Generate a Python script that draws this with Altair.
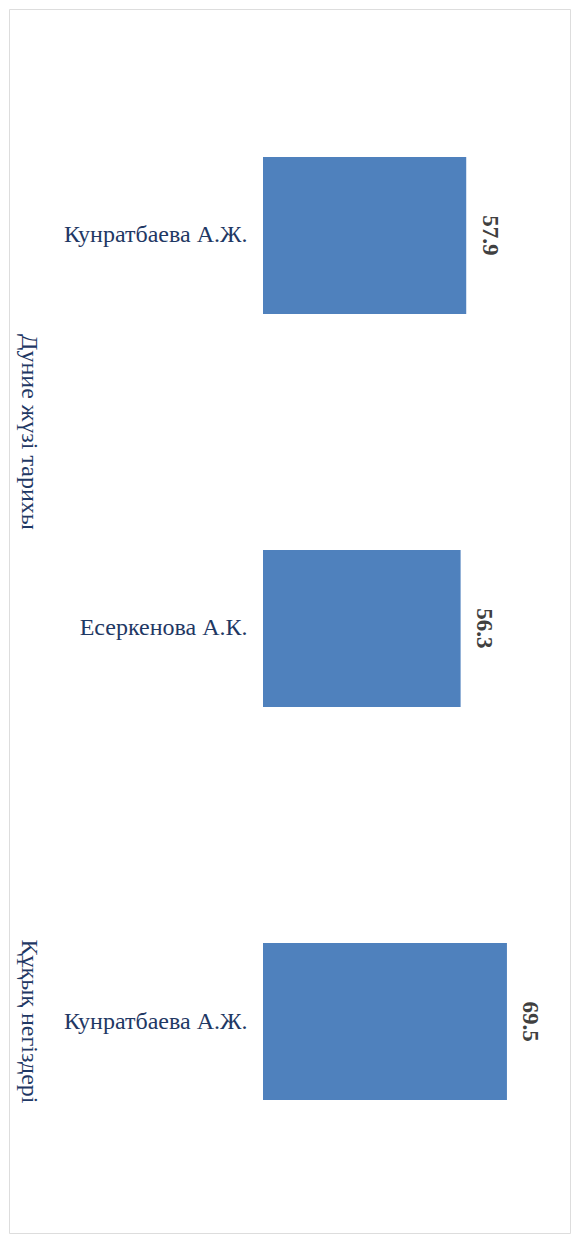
import altair as alt
import pandas as pd

groups = ["Дуние жүзі тарихы", "Дуние жүзі тарихы", "Құқық негіздері"]
names = ["Кунратбаева А.Ж.", "Есеркенова А.К.", "Кунратбаева А.Ж."]
values = [57.9, 56.3, 69.5]

df = pd.DataFrame({
    "idx": list(range(len(names))),
    "group": groups,
    "name": names,
    "value": values,
})

FONT = "Liberation Serif"
W, H = 561, 1224
P_IN, P_OUT, ALIGN = 0.6, 0.3572, 0.5267
n = len(names)
v_min = P_IN / 2 - 2 * P_OUT * ALIGN
v_max = v_min + (n - P_IN + 2 * P_OUT)

label_expr = "[" + ",".join("'" + s + "'" for s in names) + "][datum.value]"

yscale = alt.Scale(paddingInner=P_IN, paddingOuter=P_OUT, align=ALIGN)
yband = alt.Y(
    "idx:O",
    scale=yscale,
    axis=alt.Axis(
        title=None, domain=False, ticks=False, tickSize=0, labelPadding=16,
        offset=-254, labelExpr=label_expr, labelFont=FONT, labelFontSize=24,
        labelColor="#1F3864", labelLimit=400,
    ),
)
xq = alt.X("value:Q", scale=alt.Scale(domain=[0, 80], range=[254, 534.8]), axis=None)

base = alt.Chart(df)
bars = base.mark_bar(color="#4F81BD").encode(x=xq, y=yband)
vals = base.mark_text(
    angle=90, align="center", baseline="middle", dy=-23.5,
    font=FONT, fontSize=23, fontWeight="bold", color="#404040",
).encode(x=xq, y=yband, text=alt.Text("value:Q", format=".1f"))

grp = base.transform_calculate(pos="datum.idx + 0.5").transform_aggregate(
    pos="mean(pos)", groupby=["group"]
).mark_text(
    angle=90, align="center", baseline="middle",
    font=FONT, fontSize=24, color="#1F3864",
).encode(
    x=alt.value(20),
    y=alt.Y("pos:Q", scale=alt.Scale(domain=[v_min, v_max], nice=False, zero=False, reverse=True), axis=None),
    text="group:N",
)

chart = alt.layer(alt.layer(bars, vals), grp).resolve_scale(y="independent").properties(
    width=W, height=H, padding=1
).configure_view(stroke="#D9D9D9", strokeWidth=2).configure(background="white")

chart.save("out.html", embed_options={"renderer": "svg", "actions": False})
